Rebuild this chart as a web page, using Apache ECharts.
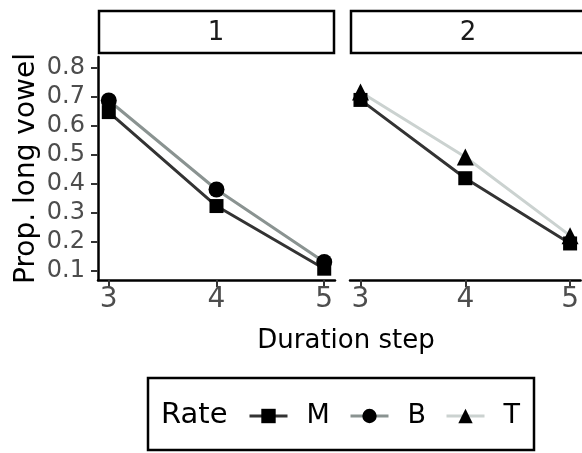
<!DOCTYPE html>
<html>
<head>
<meta charset="utf-8">
<script src="https://cdn.jsdelivr.net/npm/echarts@6/dist/echarts.min.js"></script>
<style>
html,body{margin:0;padding:0;background:#fff;}
#chart{width:582px;height:453px;}
</style>
</head>
<body>
<div id="chart"></div>
<script>
var durationSteps = [3, 4, 5];
var yTicks = [0.1, 0.2, 0.3, 0.4, 0.5, 0.6, 0.7, 0.8];
var panelLabels = ['1', '2'];
var panel1M = [0.648, 0.324, 0.108];
var panel1B = [0.688, 0.381, 0.131];
var panel2M = [0.69, 0.42, 0.195];
var panel2T = [0.717, 0.493, 0.222];

var FONT = 'DejaVu Sans';
var colM = '#333333', colB = '#8a9391', colT = '#cbd2d0';

function pairs(xs, ys) { return xs.map(function (x, i) { return [x, ys[i]]; }); }

var chart = echarts.init(document.getElementById('chart'), null, {renderer: 'canvas'});

function xAxisCfg(idx) {
  return {
    type: 'value', gridIndex: idx, min: 2.9, max: 5.1,
    axisLine: {show: true, lineStyle: {color: '#000', width: 2.5}},
    axisTick: {show: true, length: 7, lineStyle: {color: '#333', width: 2}, customValues: durationSteps},
    axisLabel: {show: true, color: '#4d4d4d', fontSize: 28, fontFamily: FONT, margin: 6, customValues: durationSteps},
    splitLine: {show: false}
  };
}
function yAxisCfg(idx, show) {
  return {
    type: 'value', gridIndex: idx, min: 0.069, max: 0.838,
    axisLine: {show: show, lineStyle: {color: '#000', width: 2.5}},
    axisTick: {show: show, length: 7, lineStyle: {color: '#333', width: 2}, customValues: yTicks},
    axisLabel: {show: show, color: '#4d4d4d', fontSize: 24, fontFamily: FONT, margin: 13, customValues: yTicks,
      formatter: function (v) { return v.toFixed(1); }},
    splitLine: {show: false},
    name: show ? 'Prop. long vowel' : '',
    nameLocation: 'middle', nameGap: 57,
    nameTextStyle: {color: '#000', fontSize: 28, fontFamily: FONT}
  };
}

function legendCfg(name, left) {
  return {
    data: [name], left: left, top: 401, padding: 0,
    itemWidth: 38, itemHeight: 18,
    lineStyle: {width: 3},
    textStyle: {color: '#000', fontSize: 27, fontFamily: FONT, lineHeight: 30, padding: [0, 0, 0, 14]},
    selectedMode: false
  };
}

var option = {
  animation: false,
  backgroundColor: '#fff',
  grid: [
    {left: 98, top: 57, width: 237, height: 223},
    {left: 350, top: 57, width: 237, height: 223}
  ],
  xAxis: [xAxisCfg(0), xAxisCfg(1)],
  yAxis: [yAxisCfg(0, true), yAxisCfg(1, false)],
  legend: [legendCfg('M', 248), legendCfg('B', 349), legendCfg('T', 445)],
  series: [
    {name: 'M', type: 'line', xAxisIndex: 0, yAxisIndex: 0, data: pairs(durationSteps, panel1M),
      symbol: 'rect', symbolSize: 14, itemStyle: {color: '#000'}, lineStyle: {color: colM, width: 3}},
    {name: 'B', type: 'line', xAxisIndex: 0, yAxisIndex: 0, data: pairs(durationSteps, panel1B),
      symbol: 'circle', symbolSize: 16, itemStyle: {color: '#000'}, lineStyle: {color: colB, width: 3}},
    {name: 'M', type: 'line', xAxisIndex: 1, yAxisIndex: 1, data: pairs(durationSteps, panel2M),
      symbol: 'rect', symbolSize: 14, itemStyle: {color: '#000'}, lineStyle: {color: colM, width: 3}},
    {name: 'T', type: 'line', xAxisIndex: 1, yAxisIndex: 1, data: pairs(durationSteps, panel2T),
      symbol: 'triangle', symbolSize: 17, itemStyle: {color: '#000'}, lineStyle: {color: colT, width: 3}}
  ],
  graphic: [
    {type: 'rect', shape: {x: 99, y: 11, width: 235, height: 42}, style: {fill: '#fff', stroke: '#000', lineWidth: 2.5}},
    {type: 'text', x: 216, y: 33, style: {text: panelLabels[0], fill: '#1a1a1a', font: '26px "DejaVu Sans"', textAlign: 'center', textVerticalAlign: 'middle'}},
    {type: 'rect', shape: {x: 351, y: 11, width: 240, height: 42}, style: {fill: '#fff', stroke: '#000', lineWidth: 2.5}},
    {type: 'text', x: 468, y: 33, style: {text: panelLabels[1], fill: '#1a1a1a', font: '26px "DejaVu Sans"', textAlign: 'center', textVerticalAlign: 'middle'}},
    {type: 'text', x: 346, y: 341, style: {text: 'Duration step', fill: '#000', font: '26px "DejaVu Sans"', textAlign: 'center', textVerticalAlign: 'middle'}},
    {type: 'rect', shape: {x: 148, y: 378, width: 386, height: 72}, style: {fill: 'none', stroke: '#000', lineWidth: 2.5}},
    {type: 'text', x: 161, y: 415, style: {text: 'Rate', fill: '#000', font: '29px "DejaVu Sans"', textAlign: 'left', textVerticalAlign: 'middle'}}
  ]
};
chart.setOption(option);
</script>
</body>
</html>
